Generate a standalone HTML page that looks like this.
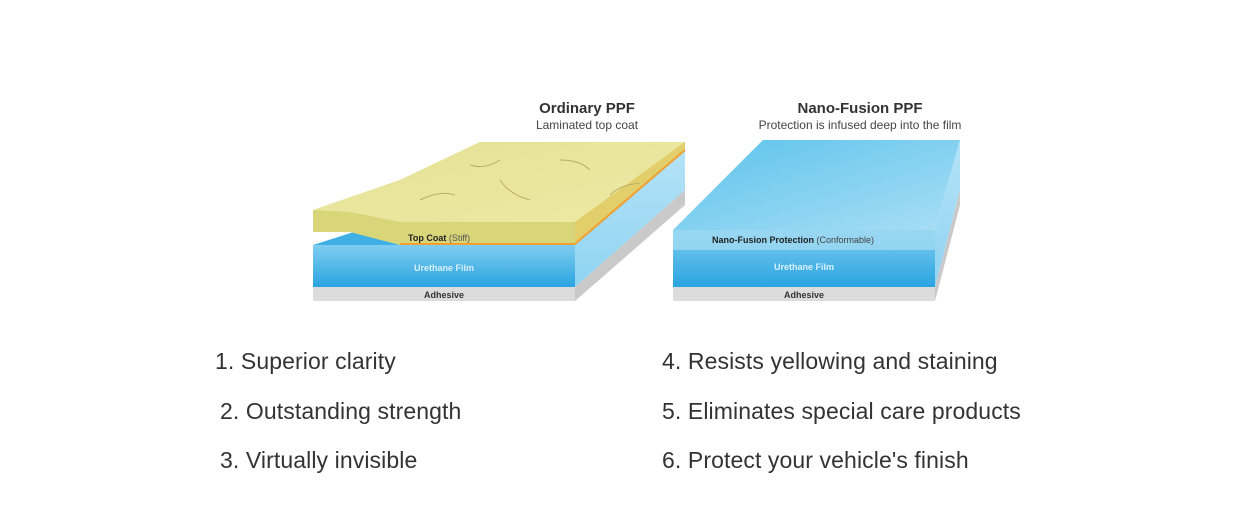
<!DOCTYPE html>
<html><head><meta charset="utf-8"><style>
html,body{margin:0;padding:0;background:#fff;width:1258px;height:532px;overflow:hidden}
svg{position:absolute;left:0;top:0}
.li{position:absolute;font-family:"Liberation Sans",sans-serif;font-size:23px;color:#333;white-space:nowrap;line-height:1;letter-spacing:0.1px}
</style></head><body>
<svg width="1258" height="532" viewBox="0 0 1258 532">
<defs>
<linearGradient id="blu" x1="0" y1="0" x2="0" y2="1"><stop offset="0" stop-color="#7fcdf0"/><stop offset="1" stop-color="#2aa4e0"/></linearGradient>
<linearGradient id="bluTop" x1="0" y1="0" x2="1" y2="1"><stop offset="0" stop-color="#5cc3ec"/><stop offset="1" stop-color="#a9def5"/></linearGradient>
<linearGradient id="side" x1="0" y1="0" x2="0" y2="1"><stop offset="0" stop-color="#b5e3f7"/><stop offset="1" stop-color="#8fd3f2"/></linearGradient>
<linearGradient id="yel" x1="0" y1="0" x2="1" y2="1"><stop offset="0" stop-color="#e4e296"/><stop offset="1" stop-color="#efe9a4"/></linearGradient>
</defs>
<!-- LEFT BLOCK -->
<polygon points="575,287 685,190 685,205 575,301" fill="#c9c9c9"/>
<polygon points="575,245 685,150 685,190 575,287" fill="url(#side)"/>
<rect x="313" y="287" width="262" height="14" fill="#dcdcdc"/>
<rect x="313" y="245" width="262" height="42" fill="url(#blu)"/>
<polygon points="313,245 360,230 575,245" fill="#3fb0e6"/>
<polygon points="313,210 400,180 480,142 685,142 685,150 575,243 400,245 350,232 313,232" fill="#d9d67a"/>
<polygon points="313,210 400,180 480,142 685,142 575,222 400,222 350,212" fill="url(#yel)"/>
<polygon points="575,222 685,142 685,150 575,245" fill="#e2cf6c"/>
<line x1="400" y1="244" x2="575" y2="244" stroke="#f0a030" stroke-width="2"/>
<line x1="575" y1="244" x2="685" y2="150" stroke="#f0a030" stroke-width="2"/>
<path d="M420 200 q20 -10 35 -5 M500 180 q10 15 30 20 M560 160 q20 0 30 10 M610 195 q10 -10 30 -12 M470 165 q15 5 30 -5" stroke="#b9b060" stroke-width="1" fill="none"/>
<text x="587" y="113" font-family="Liberation Sans,sans-serif" font-size="15" font-weight="bold" fill="#333" text-anchor="middle">Ordinary PPF</text>
<text x="587" y="129" font-family="Liberation Sans,sans-serif" font-size="12" fill="#444" text-anchor="middle">Laminated top coat</text>
<text x="408" y="241" font-family="Liberation Sans,sans-serif" font-size="9" font-weight="bold" fill="#222">Top Coat <tspan font-weight="normal" fill="#555">(Stiff)</tspan></text>
<text x="444" y="271" font-family="Liberation Sans,sans-serif" font-size="9" font-weight="bold" fill="#d8f0fb" text-anchor="middle">Urethane Film</text>
<text x="444" y="298" font-family="Liberation Sans,sans-serif" font-size="9" font-weight="bold" fill="#333" text-anchor="middle">Adhesive</text>
<!-- RIGHT BLOCK -->
<polygon points="935,287 960,190 960,205 935,301" fill="#c9c9c9"/>
<polygon points="935,230 960,140 960,190 935,287" fill="url(#side)"/>
<polygon points="673,230 763,140 960,140 935,230" fill="url(#bluTop)"/>
<rect x="673" y="287" width="262" height="14" fill="#dcdcdc"/>
<rect x="673" y="230" width="262" height="57" fill="url(#blu)"/>
<rect x="673" y="230" width="262" height="20" fill="#9fd9f3" opacity="0.8"/>
<text x="860" y="113" font-family="Liberation Sans,sans-serif" font-size="15" font-weight="bold" fill="#333" text-anchor="middle">Nano-Fusion PPF</text>
<text x="860" y="129" font-family="Liberation Sans,sans-serif" font-size="12" fill="#444" text-anchor="middle">Protection is infused deep into the film</text>
<text x="712" y="243" font-family="Liberation Sans,sans-serif" font-size="9" font-weight="bold" fill="#222">Nano-Fusion Protection <tspan font-weight="normal" fill="#444">(Conformable)</tspan></text>
<text x="804" y="270" font-family="Liberation Sans,sans-serif" font-size="9" font-weight="bold" fill="#d8f0fb" text-anchor="middle">Urethane Film</text>
<text x="804" y="298" font-family="Liberation Sans,sans-serif" font-size="9" font-weight="bold" fill="#333" text-anchor="middle">Adhesive</text>
</svg>
<div class="li" style="left:215px;top:350px">1. Superior clarity</div>
<div class="li" style="left:220px;top:400px">2. Outstanding strength</div>
<div class="li" style="left:220px;top:449px">3. Virtually invisible</div>
<div class="li" style="left:662px;top:350px">4. Resists yellowing and staining</div>
<div class="li" style="left:662px;top:400px">5. Eliminates special care products</div>
<div class="li" style="left:662px;top:449px">6. Protect your vehicle's finish</div>
</body></html>
